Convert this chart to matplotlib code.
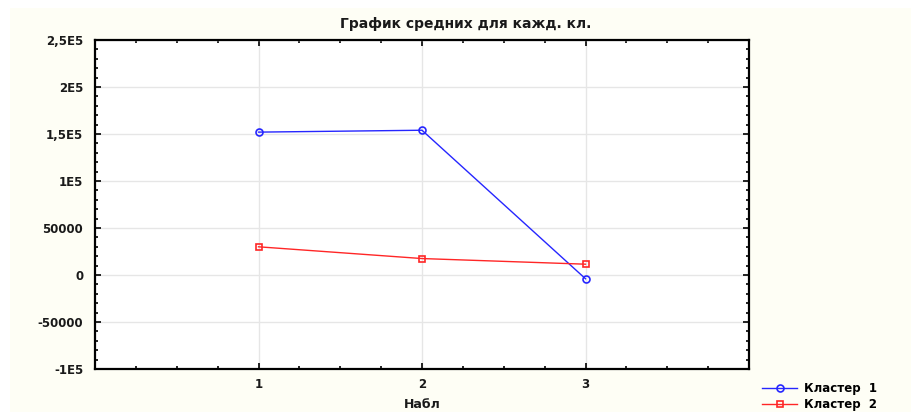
import matplotlib
matplotlib.use("Agg")
import matplotlib.pyplot as plt
from matplotlib.patches import Rectangle
from matplotlib.ticker import FixedLocator, FixedFormatter, MultipleLocator

plt.rcParams['font.family'] = ['DejaVu Sans']

title = "График средних для кажд. кл."
xlabel = "Набл"
x_cats = [1, 2, 3]
x_ticklabels = ["1", "2", "3"]
cluster1 = [152000, 154000, -4000]
cluster2 = [30000, 17500, 11500]
series_names = ["Кластер  1", "Кластер  2"]
y_ticks = [-100000, -50000, 0, 50000, 100000, 150000, 200000, 250000]
y_ticklabels = ["-1E5", "-50000", "0", "50000", "1E5", "1,5E5", "2E5", "2,5E5"]

W, H = 911, 412
cream = "#FEFEF5"
txt = "#1A1A1A"

fig = plt.figure(figsize=(W / 100, H / 100), dpi=100, facecolor="white")
fig.patches.append(Rectangle((10 / W, 0), 1, (H - 8) / H, transform=fig.transFigure,
                             facecolor=cream, edgecolor="none", zorder=-10))

ax = fig.add_axes([95 / W, 1 - 369 / H, (749 - 95) / W, (369 - 40) / H])
ax.set_facecolor("white")

ax.plot(x_cats, cluster1, color="#2626FF", lw=1, marker="o", ms=5,
        mfc="none", mec="#2626FF", mew=1.2, label=series_names[0])
ax.plot(x_cats, cluster2, color="#FF2626", lw=1, marker="s", ms=5,
        mfc="none", mec="#FF2626", mew=1.2, label=series_names[1])

ax.set_xlim(0, 4)
ax.set_ylim(-100000, 250000)
ax.xaxis.set_major_locator(FixedLocator(x_cats))
ax.xaxis.set_major_formatter(FixedFormatter(x_ticklabels))
ax.xaxis.set_minor_locator(MultipleLocator(0.25))
ax.yaxis.set_major_locator(FixedLocator(y_ticks))
ax.yaxis.set_major_formatter(FixedFormatter(y_ticklabels))
ax.yaxis.set_minor_locator(MultipleLocator(10000))

ax.grid(True, which="major", color="#E6E6E6", lw=1)
ax.set_axisbelow(True)
for s in ax.spines.values():
    s.set_linewidth(1.6)
    s.set_color("black")

ax.tick_params(which="both", direction="in", top=True, right=True,
               width=1.2, colors="black", labelcolor=txt)
ax.tick_params(which="major", length=4)
ax.tick_params(which="minor", length=2.5)
ax.tick_params(axis="y", which="major", pad=8.5, labelsize=8.5)
ax.tick_params(axis="x", which="major", pad=6.5, labelsize=8.5)
for lbl in ax.get_xticklabels() + ax.get_yticklabels():
    lbl.set_fontweight("bold")

fig.text(466 / W, 1 - 24 / H, title, ha="center", va="center",
         fontsize=10, fontweight="bold", color=txt)
fig.text(422 / W, 1 - 404 / H, xlabel, ha="center", va="center",
         fontsize=9, fontweight="bold", color=txt)

fig.legend(loc="upper left", bbox_to_anchor=(762 / W, 1 - 382 / H), frameon=False,
           prop={"weight": "bold", "size": 8.5}, handlelength=3.0,
           handletextpad=0.6, labelspacing=0.25, borderaxespad=0, borderpad=0)

fig.savefig("out.png", dpi=100, facecolor=fig.get_facecolor())
